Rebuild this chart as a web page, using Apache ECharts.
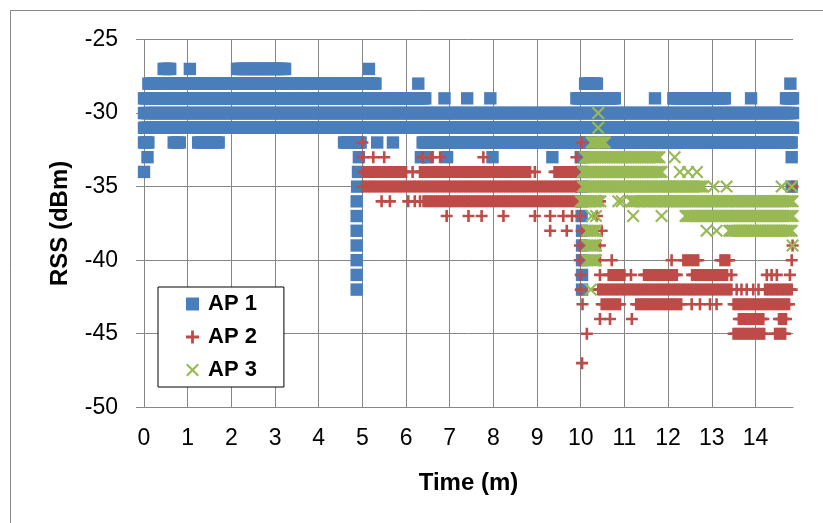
<!DOCTYPE html>
<html>
<head>
<meta charset="utf-8">
<script src="https://cdn.jsdelivr.net/npm/echarts@6/dist/echarts.min.js"></script>
<style>
  html, body { margin: 0; padding: 0; background: #fff; }
  #chart { width: 823px; height: 523px; }
</style>
</head>
<body>
<div id="chart"></div>
<script>
// ---- Data (time in minutes, RSS in dBm) ----
// Dense stretches: [rss, firstTime, lastTime] – one reading every SAMPLE_STEP minutes
const SAMPLE_STEP = 0.04;

const ap1Runs = [
  [-27, 0.45, 0.60], [-27, 2.13, 3.23],
  [-28, 0.10, 5.30], [-28, 10.10, 10.37],
  [-29, 0.00, 6.44], [-29, 9.90, 10.78], [-29, 12.12, 13.30], [-29, 14.70, 14.86],
  [-30, 0.00, 14.86],
  [-31, 0.00, 14.86],
  [-32, 0.00, 0.10], [-32, 0.68, 0.82], [-32, 1.24, 1.71], [-32, 4.58, 4.96], [-32, 6.38, 14.83]
];
// Isolated readings: [time, rss]
const ap1Points = [
  [1.05, -27], [5.15, -27],
  [6.28, -28], [14.80, -28],
  [6.88, -29], [7.40, -29], [7.93, -29], [11.70, -29], [13.90, -29],
  [5.34, -32], [5.70, -32],
  [0.08, -33], [4.92, -33], [6.34, -33], [6.50, -33], [6.94, -33], [7.98, -33], [9.35, -33], [10.00, -33], [10.08, -33], [14.83, -33],
  [0.00, -34], [4.90, -34], [10.02, -34],
  [4.88, -35], [10.02, -35], [14.83, -35],
  [4.87, -36], [10.02, -36],
  [4.87, -37], [10.02, -37],
  [4.87, -38], [10.03, -38],
  [4.87, -39], [10.03, -39],
  [4.87, -40], [10.03, -40],
  [4.87, -41], [10.03, -41],
  [4.87, -42], [10.03, -42]
];

const ap2Runs = [
  [-34, 5.02, 6.00], [-34, 6.32, 8.84], [-34, 9.40, 9.90],
  [-35, 5.00, 9.95],
  [-36, 6.40, 9.95],
  [-40, 12.35, 12.69], [-40, 13.20, 13.40],
  [-41, 10.64, 11.00], [-41, 11.45, 12.20], [-41, 12.55, 13.35],
  [-42, 10.40, 13.45], [-42, 14.22, 14.83],
  [-43, 10.48, 10.90], [-43, 11.27, 12.30], [-43, 13.50, 14.77],
  [-44, 13.62, 14.18], [-44, 14.54, 14.70],
  [-45, 13.50, 14.20], [-45, 14.45, 14.68]
];
const ap2Points = [
  [5.00, -32], [10.02, -32],
  [5.01, -33], [5.25, -33], [5.50, -33], [6.38, -33], [6.58, -33], [6.78, -33], [7.77, -33], [9.90, -33],
  [6.15, -34], [8.95, -34],
  [14.85, -35],
  [5.44, -36], [5.63, -36], [6.05, -36], [6.20, -36], [6.32, -36], [10.44, -36],
  [6.93, -37], [7.43, -37], [7.73, -37], [8.23, -37], [8.95, -37], [9.30, -37], [9.60, -37], [9.80, -37], [9.98, -37], [10.37, -37],
  [9.30, -38], [9.68, -38], [10.02, -38], [10.48, -38],
  [9.98, -39], [10.44, -39], [14.85, -39],
  [9.98, -40], [10.44, -40], [10.71, -40], [12.08, -40], [14.83, -40],
  [10.00, -41], [10.44, -41], [11.15, -41], [13.45, -41], [14.26, -41], [14.37, -41], [14.49, -41], [14.79, -41],
  [10.00, -42], [13.57, -42], [13.68, -42], [13.80, -42], [13.95, -42], [14.07, -42],
  [10.04, -43], [12.54, -43], [12.73, -43], [12.96, -43], [13.11, -43],
  [10.44, -44], [10.67, -44], [11.17, -44],
  [10.14, -45],
  [10.03, -47]
];

const ap3Runs = [
  [-32, 10.25, 10.55],
  [-33, 10.10, 11.80],
  [-34, 10.05, 11.85],
  [-35, 10.05, 12.80],
  [-36, 10.00, 10.45], [-36, 11.15, 14.85],
  [-37, 12.40, 14.85],
  [-38, 10.15, 10.35], [-38, 13.40, 14.83],
  [-39, 10.15, 10.35],
  [-40, 10.15, 10.35]
];
const ap3Points = [
  [10.40, -30], [10.40, -31],
  [12.15, -33],
  [12.27, -34], [12.46, -34], [12.66, -34],
  [13.04, -35], [13.34, -35], [14.60, -35], [14.83, -35],
  [10.86, -36], [10.94, -36],
  [10.25, -37], [10.35, -37], [11.20, -37], [11.85, -37],
  [12.88, -38], [13.11, -38],
  [14.85, -39],
  [10.23, -42]
];

// ---- build [time, rss] readings from the lists above ----
function readings(runs, points) {
  const out = [];
  runs.forEach(function (r) {
    const v = r[0], a = r[1], b = r[2];
    const n = Math.max(1, Math.round((b - a) / SAMPLE_STEP));
    for (let i = 0; i <= n; i++) out.push([+(a + (b - a) * i / n).toFixed(3), v]);
  });
  points.forEach(function (p) { out.push([p[0], p[1]]); });
  return out;
}

const FONT = "'Liberation Sans', Arial, sans-serif";
const GRID = '#868686';
const PLUS = 'path://M4.7,0h2.6v4.7h4.7v2.6h-4.7v4.7h-2.6v-4.7h-4.7v-2.6h4.7z';
const CROSS = 'path://M0,1.4L1.4,0L6,4.6L10.6,0L12,1.4L7.4,6L12,10.6L10.6,12L6,7.4L1.4,12L0,10.6L4.6,6Z';

const chart = echarts.init(document.getElementById('chart'), null, { renderer: 'canvas' });
chart.setOption({
  animation: false,
  backgroundColor: '#ffffff',
  graphic: [{
    type: 'rect', silent: true, z: -10,
    shape: { x: 10.5, y: 10.5, width: 1200, height: 1200 },
    style: { fill: 'none', stroke: GRID, lineWidth: 1 }
  }],
  grid: { left: 144, top: 39.5, width: 649, height: 367.8, containLabel: false, outerBoundsMode: 'none' },
  legend: {
    orient: 'vertical', left: 158, top: 287,
    data: ['AP 1', 'AP 2', 'AP 3'],
    backgroundColor: '#ffffff', borderColor: '#000000', borderWidth: 1,
    padding: [5, 27, 5, 28],
    itemWidth: 13, itemHeight: 13, itemGap: 9,
    textStyle: { fontFamily: FONT, fontSize: 22, fontWeight: 'bold', color: '#000', lineHeight: 24, padding: [0, 0, 0, 4] }
  },
  xAxis: {
    type: 'value', min: 0, max: 14.86, interval: 1,
    name: 'Time (m)', nameLocation: 'middle', nameGap: 64,
    nameTextStyle: { fontFamily: FONT, fontSize: 24, fontWeight: 'bold', color: '#000' },
    axisLine: { show: true, onZero: false, lineStyle: { color: GRID, width: 1 } },
    axisTick: { show: false },
    axisLabel: { fontFamily: FONT, fontSize: 23, color: '#000', margin: 20, showMaxLabel: false },
    splitLine: { show: true, showMaxLine: false, lineStyle: { color: GRID, width: 1 } }
  },
  yAxis: {
    type: 'value', min: -50, max: -25, interval: 5,
    name: 'RSS (dBm)', nameLocation: 'middle', nameGap: 72, nameRotate: 90,
    nameTextStyle: { fontFamily: FONT, fontSize: 24, fontWeight: 'bold', color: '#000' },
    axisLine: { show: true, onZero: false, lineStyle: { color: GRID, width: 1 } },
    axisTick: { show: true, inside: false, length: 8, lineStyle: { color: GRID, width: 1 } },
    axisLabel: { fontFamily: FONT, fontSize: 23, color: '#000', margin: 26 },
    splitLine: { show: true, lineStyle: { color: GRID, width: 1 } }
  },
  series: [
    {
      name: 'AP 1', type: 'scatter', clip: false,
      symbol: 'rect', symbolSize: 12.4,
      itemStyle: { color: '#4A7EBB', opacity: 1 },
      data: readings(ap1Runs, ap1Points)
    },
    {
      name: 'AP 2', type: 'scatter', clip: false,
      symbol: PLUS, symbolSize: 12,
      itemStyle: { color: '#BE4B48', opacity: 1 },
      data: readings(ap2Runs, ap2Points)
    },
    {
      name: 'AP 3', type: 'scatter', clip: false,
      symbol: CROSS, symbolSize: 13,
      itemStyle: { color: '#98B954', opacity: 1 },
      data: readings(ap3Runs, ap3Points)
    }
  ]
});
</script>
</body>
</html>
